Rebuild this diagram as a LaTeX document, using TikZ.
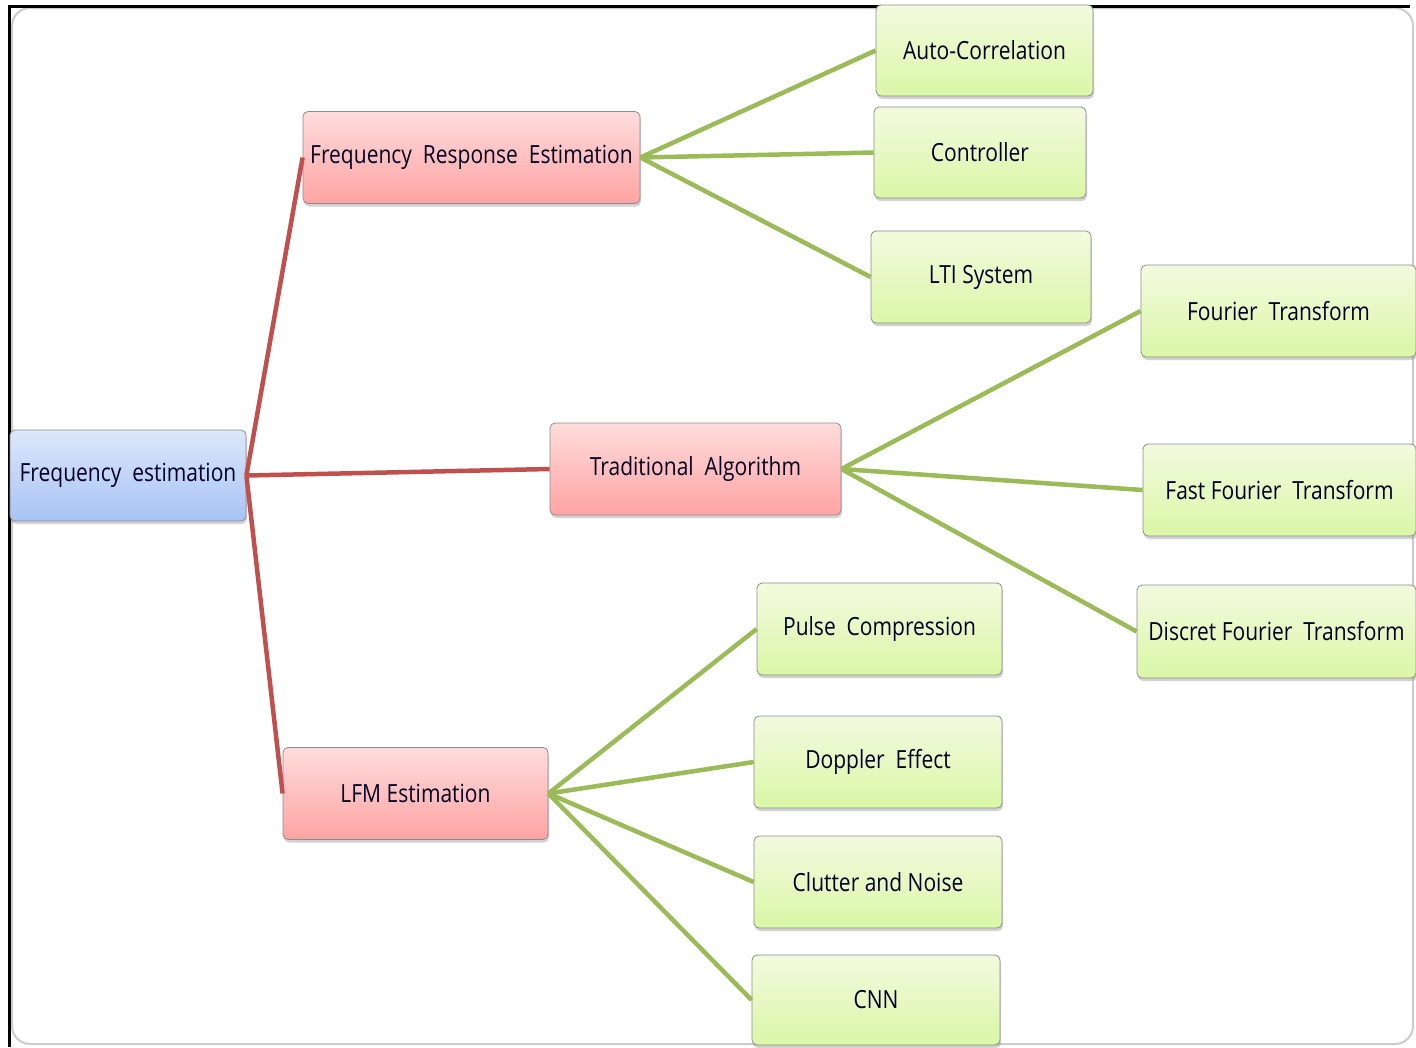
\documentclass[tikz,border=0pt]{standalone}
\usepackage{fontspec}
\newfontfamily\boxfont[FakeStretch=0.84]{Open Sans}
\usetikzlibrary{shadows}
\definecolor{redline}{HTML}{C0504D}
\definecolor{greenline}{HTML}{9BBB59}
\definecolor{blueTop}{HTML}{DCE7FB}
\definecolor{blueBot}{HTML}{A7C3F5}
\definecolor{redTop}{HTML}{FFDCDC}
\definecolor{redBot}{HTML}{FFA3A3}
\definecolor{greenTop}{HTML}{F3FADF}
\definecolor{greenBot}{HTML}{DAF7A6}
\tikzset{
  x=1pt, y=-1pt,
  base/.style={rectangle, rounded corners=5pt, draw=black!45, line width=0.8pt,
    font=\boxfont\fontsize{25}{27}\selectfont, text=black!85!blue,
    drop shadow={shadow xshift=1pt, shadow yshift=-3pt, opacity=0.35}},
  rootbox/.style={base, top color=blueTop, bottom color=blueBot, minimum width=236pt, minimum height=91pt},
  midbox/.style={base, top color=redTop, bottom color=redBot, minimum height=92pt},
  leafbox/.style={base, top color=greenTop, bottom color=greenBot, minimum height=92pt},
  redc/.style={draw=redline, line width=4.5pt},
  greenc/.style={draw=greenline, line width=4.5pt},
}
\begin{document}
\begin{tikzpicture}
\useasboundingbox (0,0) rectangle (1416,1047);
\fill[white] (0,0) rectangle (1416,1047);
\draw[black!20, line width=2pt, rounded corners=18pt] (12,8) rectangle (1413,1044);
\draw[black, line width=3pt] (9,1047) -- (9,6) -- (1410,6);

\node[rootbox] (root) at (128,475.5) {Frequency\ \ estimation};
\node[midbox, minimum width=337pt] (fre) at (471.5,157.5) {Frequency\ \ Response\ \ Estimation};
\node[midbox, minimum width=291pt] (ta) at (695.5,469) {Traditional\ \ Algorithm};
\node[midbox, minimum width=265pt] (lfm) at (415.5,793.5) {LFM Estimation};

\node[leafbox, minimum width=217pt, minimum height=91pt] (ac) at (984.5,50.5) {Auto-Correlation};
\node[leafbox, minimum width=212pt, minimum height=91pt] (ctl) at (980,152.5) {Controller};
\node[leafbox, minimum width=220pt] (lti) at (981,277) {LTI System};

\node[leafbox, minimum width=275pt] (ft) at (1278.5,311) {Fourier\ \ Transform};
\node[leafbox, minimum width=273pt] (fft) at (1279.5,490) {Fast Fourier\ \ Transform};
\node[leafbox, minimum width=279pt, minimum height=93pt] (dft) at (1276.5,631.5) {Discret Fourier\ \ Transform};

\node[leafbox, minimum width=245pt] (pc) at (879.5,629) {Pulse\ \ Compression};
\node[leafbox, minimum width=248pt] (de) at (878,762) {Doppler\ \ Effect};
\node[leafbox, minimum width=248pt] (cn) at (878,882) {Clutter and Noise};
\node[leafbox, minimum width=248pt, minimum height=90pt] (cnn) at (876,1000) {CNN};

\draw[redc] (root.east) -- (fre.west);
\draw[redc] (root.east) -- (ta.west);
\draw[redc] (root.east) -- (lfm.west);

\draw[greenc] (fre.east) -- (ac.west);
\draw[greenc] (fre.east) -- (ctl.west);
\draw[greenc] (fre.east) -- (lti.west);

\draw[greenc] (ta.east) -- (ft.west);
\draw[greenc] (ta.east) -- (fft.west);
\draw[greenc] (ta.east) -- (dft.west);

\draw[greenc] (lfm.east) -- (pc.west);
\draw[greenc] (lfm.east) -- (de.west);
\draw[greenc] (lfm.east) -- (cn.west);
\draw[greenc] (lfm.east) -- (cnn.west);
\end{tikzpicture}
\end{document}
